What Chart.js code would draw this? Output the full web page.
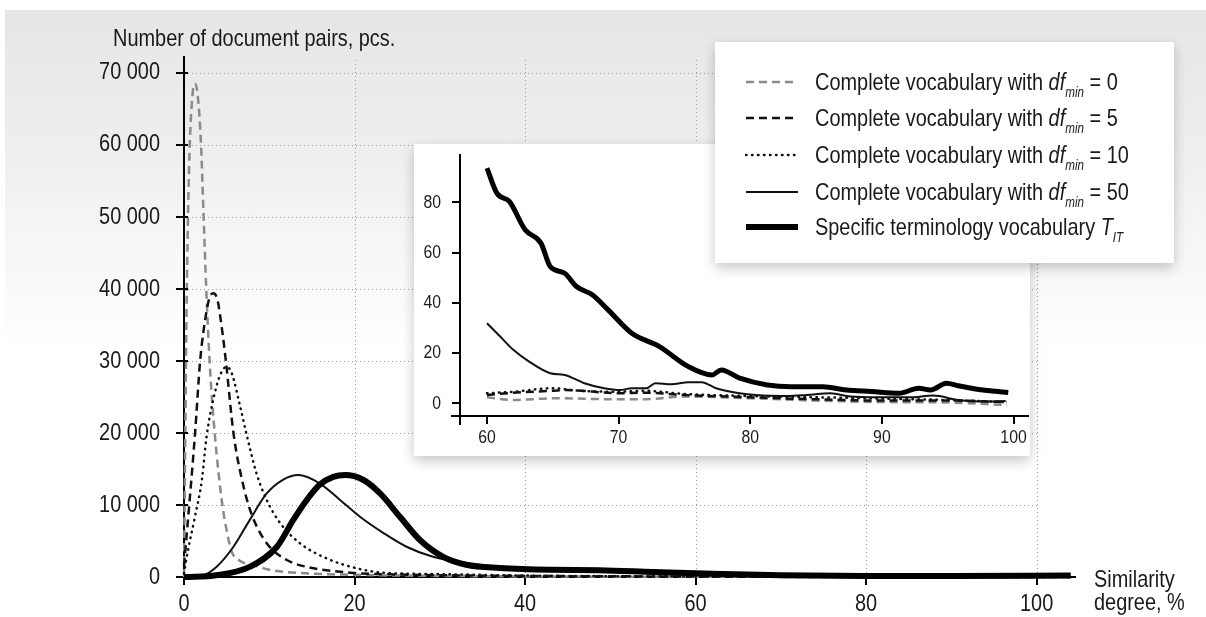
<!DOCTYPE html>
<html>
<head>
<meta charset="utf-8">
<script src="https://cdn.jsdelivr.net/npm/chart.js@4.4.1/dist/chart.umd.min.js"></script>
<style>
  body { margin: 0; width: 1206px; height: 617px; background: #fff; overflow: hidden;
         font-family: 'Liberation Sans', Arial, sans-serif; color: #1a1a1a; }
  #panel { position: absolute; left: 5px; top: 10px; right: 0; bottom: 0;
           background: linear-gradient(to bottom, #e5e6e7 0px, #eeefef 150px, #fafafa 280px, #fff 340px); }
  #main { position: absolute; left: 0; top: 0; }
  .box { position: absolute; background: #fff; box-shadow: 0 5px 12px rgba(0,0,0,0.22); }
  #insetBox { left: 414px; top: 144px; width: 616px; height: 312px; }
  #legendBox { left: 715px; top: 42px; width: 459px; height: 221px; }
  .narrow { display: inline-block; transform: scaleX(0.83); transform-origin: 0 0; white-space: nowrap; }
  .row { position: absolute; left: 30px; height: 30px; white-space: nowrap; font-size: 24px; line-height: 30px; }
  .row svg { position: absolute; left: 0; top: 10px; }
  .row .narrow { position: absolute; left: 70px; top: 0; }
  sub { font-size: 14px; font-style: italic; vertical-align: -7px; line-height: 0; }
  .ytitle { position: absolute; left: 113px; top: 26px; font-size: 24px; line-height: 24px; }
  .xtitle { position: absolute; left: 1094px; top: 567px; font-size: 24px; line-height: 23px; }
</style>
</head>
<body>
<div id="panel"></div>
<canvas id="main" width="1206" height="617"></canvas>
<div class="ytitle"><span class="narrow">Number of document pairs, pcs.</span></div>
<div class="xtitle"><span class="narrow">Similarity<br>degree, %</span></div>
<div class="box" id="insetBox"><canvas id="inset" width="616" height="312"></canvas></div>
<div class="box" id="legendBox"></div>
<script>
// main chart: similarity degree (%) vs number of document pairs
const df0X = [0, 0.3, 0.6, 1.0, 1.3, 1.6, 2.0, 2.3, 2.6, 3.0, 3.6, 4.5, 5.0, 5.6, 6.5, 8.6, 10, 13.6, 20, 30, 40, 60, 80, 104];
const df0Y = [0, 37000, 57000, 67000, 68500, 67000, 60000, 50000, 40300, 30000, 20000, 10000, 6500, 3500, 2300, 1500, 1000, 550, 300, 150, 80, 30, 10, 0];

const df5X = [0, 0.6, 1.3, 1.9, 2.6, 3.0, 3.45, 3.9, 4.2, 4.9, 5.8, 6.8, 7.9, 9.7, 12, 14.4, 19.5, 25, 30, 40, 50, 70, 104];
const df5Y = [1500, 9800, 20000, 30100, 36600, 38800, 39400, 38600, 36600, 30100, 20000, 13500, 8800, 4700, 2400, 1400, 600, 350, 250, 150, 100, 40, 0];

const df10X = [0, 0.4, 1.2, 2.1, 2.65, 3.6, 4.3, 5.0, 5.6, 6.6, 7.5, 8.5, 9.7, 11.3, 13.6, 16.7, 19.8, 23.3, 30, 40, 60, 80, 104];
const df10Y = [500, 3300, 7900, 13500, 19500, 25500, 28200, 29200, 28300, 23600, 19000, 14400, 10700, 7450, 4680, 2600, 1350, 600, 400, 200, 80, 30, 0];

const df50X = [0, 2, 3.8, 5.8, 7.7, 9.7, 11.6, 13.4, 15.9, 18.3, 20.6, 23.4, 26.1, 29.2, 33.1, 37, 42.9, 48.7, 60, 70, 80, 90, 104];
const df50Y = [0, 150, 1400, 4200, 7900, 11600, 13500, 14150, 13000, 10700, 8400, 6100, 4200, 2800, 1900, 1400, 1000, 800, 450, 250, 120, 60, 30];

const termX = [0, 3.8, 7.7, 10.9, 12.8, 14.4, 15.9, 17.5, 18.9, 21, 23, 25.3, 27.7, 30.4, 33.1, 37, 42.9, 48.7, 55, 62, 70, 80, 90, 104];
const termY = [0, 250, 1400, 4200, 7900, 10700, 12800, 13900, 14150, 13500, 11600, 8400, 5100, 2800, 1700, 1250, 1000, 950, 700, 450, 250, 150, 150, 200];

const mainXTicks = [0, 20, 40, 60, 80, 100];
const mainYTicks = [0, 10000, 20000, 30000, 40000, 50000, 60000, 70000];

// inset: tail of the distribution, 60..100 %
const inDf0X = [60, 62, 65, 70, 72, 75, 80, 85, 90, 95, 99.5];
const inDf0Y = [2.4, 1.3, 2, 1.6, 1.6, 2.7, 2, 1.1, 0.5, 0.3, -0.7];

const inDf5X = [60, 62, 65, 66, 70, 72, 75, 80, 85, 90, 95, 99.5];
const inDf5Y = [3.3, 4.2, 5, 5.3, 4, 4.2, 3.3, 2.4, 1.6, 1.1, 1.1, 0.5];

const inDf10X = [60, 62, 65, 67, 70, 72, 75, 80, 85, 90, 95, 99.5];
const inDf10Y = [4, 4.6, 6, 5, 4.6, 5, 3.7, 2.9, 2.4, 1.9, 1.3, 0.5];

const inDf50X = [60, 61, 62, 63.2, 64.8, 65.9, 67.4, 68.9, 70.1, 71, 72.1, 72.8, 74, 75.3, 76.3, 77.4, 79.2, 80.4, 82.8, 84.3, 86.1, 87.6, 89.7, 92.1, 93.9, 95.8, 97.6, 99.4];
const inDf50Y = [31.9, 26.6, 21.3, 16.6, 12, 11.3, 8, 6, 5.3, 6, 6, 8, 7.6, 8.4, 8.4, 6, 4, 3.3, 2.9, 3.3, 4, 2.7, 2.4, 2.4, 3.1, 1.3, 0.7, 0.9];

const inTermX = [60, 60.75, 61.7, 62.9, 64.1, 64.8, 65.9, 66.8, 68, 69.2, 71, 73.1, 75.3, 77.1, 77.8, 79.2, 81.3, 83.1, 85.5, 87.3, 89.2, 91.3, 92.8, 93.7, 94.9, 95.8, 97, 98.2, 99.6];
const inTermY = [93.7, 83.7, 80.4, 69.1, 63.8, 54.5, 51.8, 46.5, 43.2, 37.2, 27.9, 22.6, 14.6, 11.3, 13.3, 10, 7.3, 6.6, 6.6, 5.3, 4.7, 4, 6, 5.3, 8, 7, 5.8, 5, 4.3];

const insetXTicks = [60, 70, 80, 90, 100];
const insetYTicks = [0, 20, 40, 60, 80];

const seriesNames = [
  'Complete vocabulary with <i>df</i><sub>min</sub> = 0',
  'Complete vocabulary with <i>df</i><sub>min</sub> = 5',
  'Complete vocabulary with <i>df</i><sub>min</sub> = 10',
  'Complete vocabulary with <i>df</i><sub>min</sub> = 50',
  'Specific terminology vocabulary <i>T</i><sub>IT</sub>'
];

const FONT = "'Liberation Sans', Arial, sans-serif";
const SQUEEZE = 0.83;   // fake a condensed face

function pts(xs, ys) {
  return xs.map((x, i) => ({ x: x, y: ys[i] }));
}

function fmtThousands(v) {
  return v === 0 ? '0' : (v / 1000) + ' 000';
}

// one style per series, used by both charts and the legend
const styles = [
  { color: '#8a8a8a', width: 2.5, dash: [8, 5], cap: 'butt' },
  { color: '#111', width: 2.5, dash: [8, 5], cap: 'butt' },
  { color: '#111', width: 2.5, dash: [0.5, 5.5], cap: 'round' },
  { color: '#111', width: 2, dash: [], cap: 'butt' },
  { color: '#000', width: 6, dash: [], cap: 'butt' }
];

function makeDatasets(list, thick) {
  return list.map((p, i) => ({
    data: pts(p[0], p[1]),
    borderColor: styles[i].color,
    borderWidth: i === 4 ? thick : styles[i].width,
    borderDash: styles[i].dash,
    borderCapStyle: styles[i].cap,
    pointRadius: 0,
    fill: false,
    cubicInterpolationMode: 'monotone',
    clip: 8,
    order: 4 - i
  }));
}

const dottedGrid = {
  id: 'dottedGrid',
  beforeDatasetsDraw(chart) {
    const { ctx, scales: { x, y } } = chart;
    ctx.save();
    ctx.strokeStyle = '#9c9c9c';
    ctx.lineWidth = 1;
    ctx.setLineDash([1, 3]);
    const xEnd = x.getPixelForValue(100);
    mainYTicks.slice(1).forEach(v => {
      const py = Math.round(y.getPixelForValue(v)) + 0.5;
      ctx.beginPath(); ctx.moveTo(x.left, py); ctx.lineTo(xEnd, py); ctx.stroke();
    });
    mainXTicks.slice(1).forEach(v => {
      const px = Math.round(x.getPixelForValue(v)) + 0.5;
      ctx.beginPath(); ctx.moveTo(px, y.bottom); ctx.lineTo(px, y.top); ctx.stroke();
    });
    ctx.restore();
  }
};

function squeezedText(ctx, s, px, py, align) {
  ctx.save();
  ctx.translate(px, py);
  ctx.scale(SQUEEZE, 1);
  ctx.textAlign = align;
  ctx.fillText(s, 0, 0);
  ctx.restore();
}

// tick labels drawn by hand so they can be squeezed like the original condensed font
const narrowLabels = {
  id: 'narrowLabels',
  afterDraw(chart, args, o) {
    const { ctx, scales: { x, y } } = chart;
    ctx.save();
    ctx.fillStyle = '#1a1a1a';
    ctx.font = o.size + 'px ' + FONT;
    ctx.textBaseline = 'middle';
    x.ticks.forEach(t => squeezedText(ctx, String(t.value), x.getPixelForValue(t.value), x.top + o.xOff, 'center'));
    y.ticks.forEach(t => squeezedText(ctx, o.thousands ? fmtThousands(t.value) : String(t.value),
      y.right - o.yOff, y.getPixelForValue(t.value), 'right'));
    ctx.restore();
  }
};

// little overshoots: y ticks crossing the axis, inset axes crossing at the corner
const axisExtras = {
  id: 'axisExtras',
  afterDraw(chart, args, o) {
    const { ctx, scales: { x, y } } = chart;
    ctx.save();
    ctx.strokeStyle = '#000';
    ctx.lineWidth = 2;
    if (o.crossTicks) {
      y.ticks.forEach(t => {
        const py = Math.round(y.getPixelForValue(t.value));
        ctx.beginPath(); ctx.moveTo(y.right, py); ctx.lineTo(y.right + 4, py); ctx.stroke();
      });
    }
    if (o.corner) {
      ctx.beginPath(); ctx.moveTo(x.left - 9, x.top); ctx.lineTo(x.left, x.top); ctx.stroke();
      ctx.beginPath(); ctx.moveTo(y.right, y.bottom); ctx.lineTo(y.right, y.bottom + 9); ctx.stroke();
    }
    ctx.restore();
  }
};

function axis(min, max, ticks, extra) {
  return Object.assign({
    type: 'linear',
    min: min,
    max: max,
    afterBuildTicks: s => { s.ticks = ticks.map(v => ({ value: v })); },
    ticks: { display: false },
    grid: { drawOnChartArea: false, drawTicks: true, tickLength: 8, color: '#000', lineWidth: 2 },
    border: { display: true, color: '#000', width: 2 }
  }, extra);
}

new Chart(document.getElementById('main'), {
  type: 'line',
  data: {
    datasets: makeDatasets([[df0X, df0Y], [df5X, df5Y], [df10X, df10Y], [df50X, df50Y], [termX, termY]], 6)
  },
  options: {
    responsive: false,
    animation: false,
    devicePixelRatio: 1,
    layout: { padding: { left: 0, top: 57, right: 131, bottom: 0 } },
    plugins: {
      legend: { display: false },
      tooltip: { enabled: false },
      narrowLabels: { size: 24, xOff: 27, yOff: 24, thousands: true },
      axisExtras: { crossTicks: true, corner: false }
    },
    scales: {
      x: axis(0, 104.5, mainXTicks, { afterFit: s => { s.height = 40; } }),
      y: axis(0, 72200, mainYTicks, { afterFit: s => { s.width = 184; } })
    }
  },
  plugins: [dottedGrid, narrowLabels, axisExtras]
});

new Chart(document.getElementById('inset'), {
  type: 'line',
  data: {
    datasets: makeDatasets([[inDf0X, inDf0Y], [inDf5X, inDf5Y], [inDf10X, inDf10Y], [inDf50X, inDf50Y], [inTermX, inTermY]], 5)
  },
  options: {
    responsive: false,
    animation: false,
    devicePixelRatio: 1,
    layout: { padding: { left: 0, top: 11, right: 2, bottom: 0 } },
    plugins: {
      legend: { display: false },
      tooltip: { enabled: false },
      narrowLabels: { size: 19, xOff: 22, yOff: 19, thousands: false },
      axisExtras: { crossTicks: false, corner: true }
    },
    scales: {
      x: axis(57.95, 101.1, insetXTicks, { afterFit: s => { s.height = 40; } }),
      y: axis(-5.06, 98.9, insetYTicks, { afterFit: s => { s.width = 46; } })
    }
  },
  plugins: [narrowLabels, axisExtras]
});

// legend (drawn in html because of the subscripts)
const legendBox = document.getElementById('legendBox');
const rowTops = [25, 61, 98, 135, 170];
seriesNames.forEach((name, i) => {
  const st = styles[i];
  const row = document.createElement('div');
  row.className = 'row';
  row.style.top = rowTops[i] + 'px';
  row.innerHTML = '<svg width="54" height="10"><line x1="1" y1="5" x2="53" y2="5" stroke="' + st.color +
    '" stroke-width="' + (i === 4 ? 6 : st.width) + '" stroke-dasharray="' + (st.dash.length ? st.dash.join(' ') : 'none') +
    '" stroke-linecap="' + st.cap + '"/></svg><span class="narrow">' + name + '</span>';
  legendBox.appendChild(row);
});
</script>
</body>
</html>
